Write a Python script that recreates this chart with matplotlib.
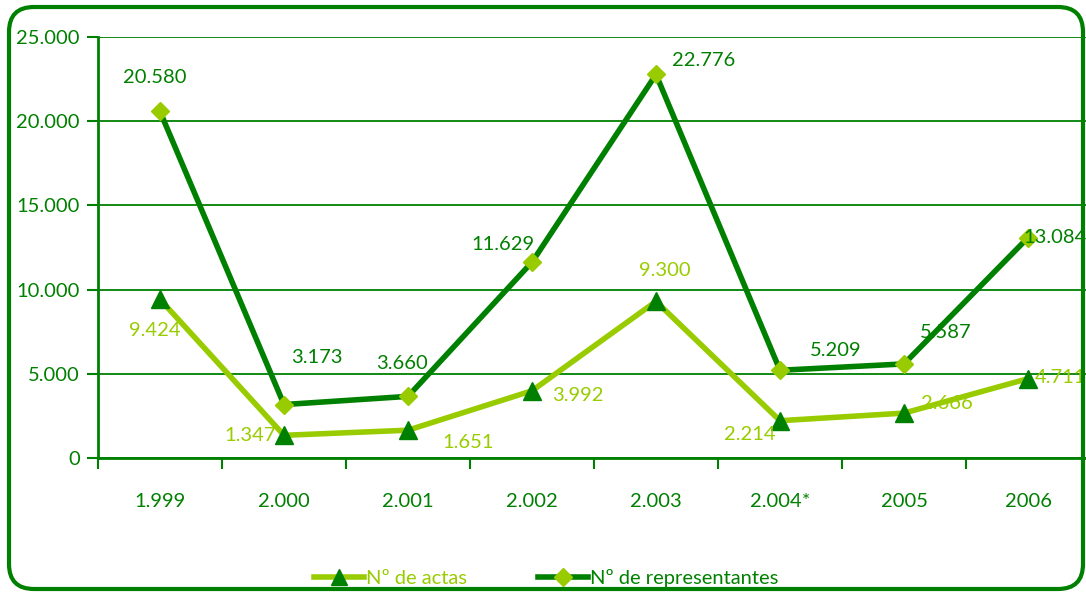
import matplotlib.pyplot as plt
from matplotlib.patches import FancyBboxPatch
from matplotlib.lines import Line2D

# datos
years = ['1.999', '2.000', '2.001', '2.002', '2.003', '2.004*', '2005', '2006']
actas = [9424, 1347, 1651, 3992, 9300, 2214, 2666, 4711]
representantes = [20580, 3173, 3660, 11629, 22776, 5209, 5587, 13084]
actas_txt = ['9.424', '1.347', '1.651', '3.992', '9.300', '2.214', '2.666', '4.711']
repr_txt = ['20.580', '3.173', '3.660', '11.629', '22.776', '5.209', '5.587', '13.084']

# desplazamiento de etiquetas (pixeles)
actas_off = [(-5, -31), (-34, 0), (60, -12), (46, -5), (9, 31), (-30, -14), (43, 10), (32, 1)]
repr_off = [(-5, 34), (33, 47), (-6, 33), (-29, 18), (48, 14), (56, 20), (42, 31), (27, 0)]

dark = '#008000'
light = '#99CC00'
fs = 14.5

plt.rcParams['font.family'] = ['Lato', 'DejaVu Sans']

fig = plt.figure(figsize=(10.86, 5.97), dpi=100)
ax = fig.add_axes([98 / 1086, 1 - 458 / 597, 992 / 1086, 421 / 597])

x = list(range(len(years)))
ax.plot(x, representantes, color=dark, lw=4, marker='D', ms=9,
        mfc=light, mec=light, zorder=3)
ax.plot(x, actas, color=light, lw=4, marker='^', ms=13,
        mfc=dark, mec=dark, zorder=3)

for i in x:
    ax.annotate(repr_txt[i], (i, representantes[i]), xytext=repr_off[i],
                textcoords='offset pixels', ha='center', va='center',
                color=dark, fontsize=fs, zorder=4)
    ax.annotate(actas_txt[i], (i, actas[i]), xytext=actas_off[i],
                textcoords='offset pixels', ha='center', va='center',
                color=light, fontsize=fs, zorder=4)

ax.set_ylim(0, 25000)
ax.set_xlim(-0.5, 7.5)
ax.set_yticks(range(0, 25001, 5000))
ax.set_yticklabels(['0', '5.000', '10.000', '15.000', '20.000', '25.000'])
ax.set_xticks([i + 0.5 for i in range(-1, 8)])
ax.set_xticklabels([])
ax.set_xticks(x, minor=True)
ax.set_xticklabels(years, minor=True)
ax.tick_params(axis='x', which='minor', length=0, pad=25, labelsize=fs, labelcolor=dark)
ax.tick_params(axis='x', which='major', length=8, width=1.5, color=dark)
ax.tick_params(axis='y', length=8, width=1.5, color=dark, pad=5, labelsize=fs, labelcolor=dark)
ax.grid(axis='y', color=dark, lw=1.3)
ax.set_axisbelow(True)
for s in ['top', 'right']:
    ax.spines[s].set_visible(False)
for s in ['left', 'bottom']:
    ax.spines[s].set_color(dark)
    ax.spines[s].set_linewidth(2)

h1 = Line2D([], [], color=light, lw=4, marker='^', ms=12, mfc=dark, mec=dark)
h2 = Line2D([], [], color=dark, lw=4, marker='D', ms=9, mfc=light, mec=light)
leg = fig.legend([h1, h2], ['Nº de actas', 'Nº de representantes'],
                 loc='center', bbox_to_anchor=(546 / 1086, 1 - 578 / 597),
                 ncol=2, frameon=False, fontsize=fs, handlelength=2.5,
                 columnspacing=3.5, handletextpad=0.1)
leg.get_texts()[0].set_color(light)
leg.get_texts()[1].set_color(dark)

border = FancyBboxPatch((9 / 1086, 1 - 589 / 597), 1074 / 1086, 582 / 597,
                        boxstyle='round,pad=0,rounding_size=0.023',
                        mutation_aspect=1086 / 597, transform=fig.transFigure,
                        fill=False, ec=dark, lw=3)
fig.add_artist(border)

fig.savefig('out.png', dpi=100)
